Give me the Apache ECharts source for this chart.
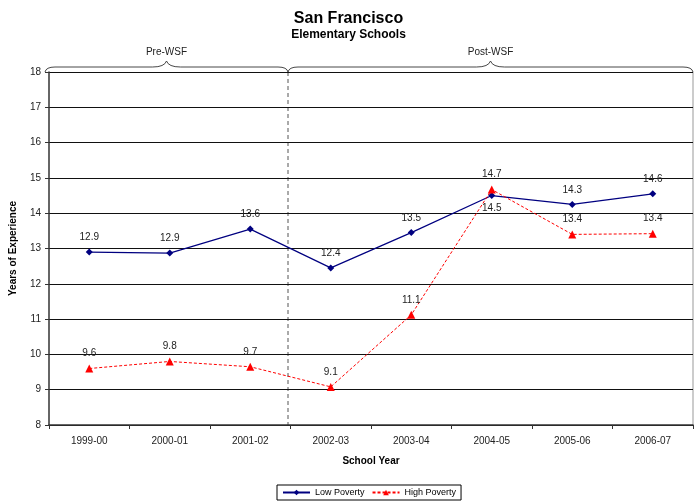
<!DOCTYPE html>
<html>
<head>
<meta charset="utf-8">
<script src="https://cdn.jsdelivr.net/npm/echarts@6/dist/echarts.min.js"></script>
<style>
  html, body { margin: 0; padding: 0; background: #fff; }
  #chart { width: 697px; height: 504px; }
</style>
</head>
<body>
<div id="chart"></div>
<script>
// data
const years = ['1999-00', '2000-01', '2001-02', '2002-03', '2003-04', '2004-05', '2005-06', '2006-07']
const lowPoverty = [12.9, 12.87, 13.55, 12.45, 13.45, 14.5, 14.25, 14.55]
const highPoverty = [9.6, 9.8, 9.65, 9.08, 11.12, 14.67, 13.4, 13.42]
const lowLabels = ['12.9', '12.9', '13.6', '12.4', '13.5', '14.5', '14.3', '14.6']
const highLabels = ['9.6', '9.8', '9.7', '9.1', '11.1', '14.7', '13.4', '13.4']
const periods = ['Pre-WSF', 'Post-WSF']
const splitAfter = 3 // number of categories before WSF

const W = 697
const grid = { left: 45, right: 4, top: 72, bottom: 79 }
const plotW = W - grid.left - grid.right
const xSplit = grid.left + plotW * splitAfter / years.length
const xEnd = grid.left + plotW

// curly brace above the plot, built from quadratic curves and lines
const braceStyle = { stroke: '#333', fill: null, lineWidth: 0.9 }
const brace = (x1, x2, y) => {
  const m = (x1 + x2) / 2
  const t = y - 5
  const c = (a, b, cx, cy, d, e) => ({
    type: 'bezierCurve', silent: true,
    shape: { x1: a, y1: b, cpx1: cx, cpy1: cy, x2: d, y2: e }, style: braceStyle
  })
  return [
    c(x1, y, x1 + 1, t, x1 + 10, t),
    { type: 'line', silent: true, shape: { x1: x1 + 10, y1: t, x2: m - 14, y2: t }, style: braceStyle },
    c(m - 14, t, m - 2, t, m, y - 11),
    c(m, y - 11, m + 2, t, m + 14, t),
    { type: 'line', silent: true, shape: { x1: m + 14, y1: t, x2: x2 - 10, y2: t }, style: braceStyle },
    c(x2 - 10, t, x2 - 1, t, x2, y)
  ]
}

const chart = echarts.init(document.getElementById('chart'))
const font = 'Liberation Sans, Arial, sans-serif'

const option = {
  backgroundColor: '#fff',
  textStyle: { fontFamily: font },
  animation: false,
  title: {
    text: 'San Francisco',
    subtext: 'Elementary Schools',
    left: 'center',
    top: 6,
    itemGap: 2,
    textStyle: { fontSize: 16, fontWeight: 'bold', color: '#000', fontFamily: font },
    subtextStyle: { fontSize: 12, fontWeight: 'bold', color: '#000', fontFamily: font }
  },
  legend: {
    bottom: 4,
    left: 277,
    borderColor: '#000',
    borderWidth: 1,
    borderRadius: 0,
    padding: [3, 5],
    itemWidth: 27,
    itemHeight: 7,
    itemGap: 7,
    textStyle: { fontSize: 9, color: '#000' },
    data: ['Low Poverty', 'High Poverty']
  },
  grid: { left: grid.left, right: grid.right, top: grid.top, bottom: grid.bottom },
  xAxis: {
    type: 'category',
    data: years,
    boundaryGap: true,
    name: 'School Year',
    nameLocation: 'middle',
    nameGap: 31,
    nameTextStyle: { fontSize: 10, fontWeight: 'bold', color: '#000' },
    axisLine: { lineStyle: { color: '#333', width: 1.5 } },
    axisTick: { show: true, length: 4, lineStyle: { color: '#333' } },
    axisLabel: { fontSize: 10, color: '#222', margin: 11 }
  },
  yAxis: {
    type: 'value',
    min: 8,
    max: 18,
    interval: 1,
    name: 'Years of Experience',
    nameLocation: 'middle',
    nameGap: 31,
    nameTextStyle: { fontSize: 10, fontWeight: 'bold', color: '#000' },
    axisLine: { show: true, lineStyle: { color: '#333', width: 1.5 } },
    axisTick: { show: true, length: 4, lineStyle: { color: '#333' } },
    axisLabel: { fontSize: 10, color: '#222', margin: 8 },
    splitLine: { show: true, lineStyle: { color: '#111', width: 1.2 } }
  },
  series: [
    {
      name: 'Low Poverty',
      type: 'line',
      data: lowPoverty,
      color: '#000080',
      symbol: 'diamond',
      symbolSize: 7,
      lineStyle: { width: 1.2, color: '#000080' },
      label: {
        show: true,
        fontSize: 10,
        color: '#222',
        distance: 6,
        formatter: p => lowLabels[p.dataIndex]
      },
      labelLayout: p => p.dataIndex === 5 ? { dy: 27 } : {}
    },
    {
      name: 'High Poverty',
      type: 'line',
      data: highPoverty,
      color: '#ff0000',
      symbol: 'triangle',
      symbolSize: 8,
      lineStyle: { width: 1, color: '#ff0000', type: [3, 2] },
      label: {
        show: true,
        fontSize: 10,
        color: '#222',
        distance: 6,
        formatter: p => highLabels[p.dataIndex]
      }
    }
  ],
  graphic: [
    // right border of the plot
    { type: 'line', silent: true, shape: { x1: xEnd, y1: grid.top, x2: xEnd, y2: 504 - grid.bottom }, style: { stroke: '#999', lineWidth: 1 } },
    // dashed split line
    { type: 'line', silent: true, shape: { x1: xSplit, y1: grid.top, x2: xSplit, y2: 504 - grid.bottom }, style: { stroke: '#555', lineWidth: 1, lineDash: [4, 3] } },
    ...brace(grid.left, xSplit, grid.top),
    ...brace(xSplit, xEnd, grid.top),
    { type: 'text', silent: true, x: (grid.left + xSplit) / 2, y: 47, style: { text: periods[0], fontSize: 10, fill: '#222', align: 'center', fontFamily: font } },
    { type: 'text', silent: true, x: (xSplit + xEnd) / 2, y: 47, style: { text: periods[1], fontSize: 10, fill: '#222', align: 'center', fontFamily: font } }
  ]
}
chart.setOption(option)
</script>
</body>
</html>
